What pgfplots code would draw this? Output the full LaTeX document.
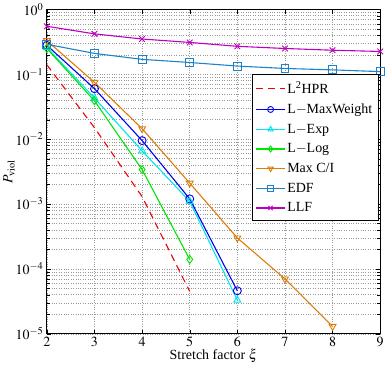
\documentclass[border=0pt]{standalone}
\usepackage{mathptmx}
\usepackage{fontspec}
\setmainfont{Liberation Serif}
\usepackage{pgfplots}
\pgfplotsset{compat=1.18}
\definecolor{cllf}{RGB}{190,0,190}
\definecolor{cedf}{RGB}{30,130,200}
\definecolor{cmax}{RGB}{220,125,10}
\definecolor{clog}{RGB}{0,230,0}
\definecolor{cexp}{RGB}{0,230,240}
\definecolor{cmw}{RGB}{0,0,240}
\definecolor{chpr}{RGB}{240,0,0}
\begin{document}
\begin{tikzpicture}
\begin{axis}[
  scale only axis,
  width=334pt, height=325pt,
  ymode=log,
  xmin=2, xmax=9, ymin=1e-5, ymax=1,
  xtick={2,...,9},
  ytick={1e-5,1e-4,1e-3,1e-2,1e-1,1},
  minor ytick={2e-5,3e-5,4e-5,5e-5,6e-5,7e-5,8e-5,9e-5,2e-4,3e-4,4e-4,5e-4,6e-4,7e-4,8e-4,9e-4,2e-3,3e-3,4e-3,5e-3,6e-3,7e-3,8e-3,9e-3,2e-2,3e-2,4e-2,5e-2,6e-2,7e-2,8e-2,9e-2,0.2,0.3,0.4,0.5,0.6,0.7,0.8,0.9},
  grid=both,
  major grid style={dotted, gray!80, line width=0.5pt},
  minor grid style={dotted, gray!80, line width=0.5pt},
  tick align=inside,
  tick style={black},
  axis line style={black, line width=0.8pt},
  tick label style={font=\fontsize{14}{16}\selectfont},
  xlabel={Stretch factor $\xi$},
  ylabel={$P_{\mathrm{viol}}$},
  label style={font=\fontsize{14}{16}\selectfont},
  xlabel style={yshift=5pt},
  ylabel style={yshift=-6pt},
  legend cell align=left,
  legend style={at={(rel axis cs:0.995,0.8)}, anchor=north east, draw=black, font=\fontsize{14}{16}\selectfont, row sep=5pt, inner xsep=4pt, inner ysep=5pt},
  legend image code/.code={\draw[mark repeat=2, mark phase=2, mark size=3pt] plot coordinates {(0cm,0cm) (0.5cm,0cm) (1.0cm,0cm)};},
  every axis plot/.append style={line width=1.1pt, mark options={solid, fill=none, line width=0.9pt}},
  mark size=4pt,
]
\addplot[chpr, dashed, dash pattern=on 7pt off 5pt] coordinates {(2,0.14) (3,0.015) (4,0.0013) (5,4.5e-5)};
\addlegendentry{L\textsuperscript{2}HPR}
\addplot[cmw, mark=o] coordinates {(2,0.28) (3,0.06) (4,0.0095) (5,0.0012) (6,4.6e-5)};
\addlegendentry{L$-$MaxWeight}
\addplot[cexp, mark=triangle] coordinates {(2,0.26) (3,0.043) (4,0.0066) (5,0.0011) (6,3.3e-5)};
\addlegendentry{L$-$Exp}
\addplot[clog, mark=diamond] coordinates {(2,0.25) (3,0.039) (4,0.0034) (5,1.4e-4)};
\addlegendentry{L$-$Log}
\addplot[cmax, mark=triangle, mark options={solid, fill=none, line width=0.9pt, rotate=180}] coordinates {(2,0.33) (3,0.075) (4,0.0145) (5,0.0021) (6,3.0e-4) (7,7.0e-5) (8,1.3e-5)};
\addlegendentry{Max C/I}
\addplot[cedf, mark=square] coordinates {(2,0.29) (3,0.21) (4,0.17) (5,0.152) (6,0.134) (7,0.123) (8,0.117) (9,0.11)};
\addlegendentry{EDF}
\addplot[cllf, mark=x] coordinates {(2,0.55) (3,0.42) (4,0.35) (5,0.31) (6,0.27) (7,0.25) (8,0.235) (9,0.225)};
\addlegendentry{LLF}
\end{axis}
\end{tikzpicture}
\end{document}
